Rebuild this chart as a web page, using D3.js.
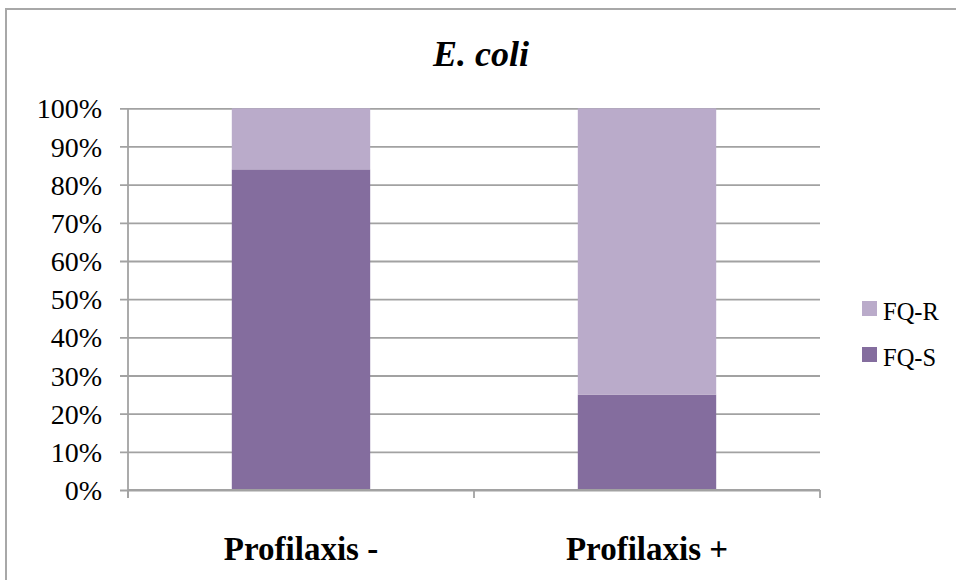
<!DOCTYPE html>
<html>
<head>
<meta charset="utf-8">
<script src="https://cdn.jsdelivr.net/npm/d3@7"></script>
<style>
  html, body { margin: 0; padding: 0; background: #fff; }
  svg { display: block; }
</style>
</head>
<body>
<svg id="chart" width="956" height="580"></svg>
<script>
// Chart data
const categories = ["Profilaxis -", "Profilaxis +"];
const seriesNames = ["FQ-S", "FQ-R"];
const fqS = [0.84, 0.25];
const fqR = [0.16, 0.75];
const yTicks = [0, 0.1, 0.2, 0.3, 0.4, 0.5, 0.6, 0.7, 0.8, 0.9, 1.0];
const titleText = "E. coli";

const colors = { "FQ-S": "#846d9e", "FQ-R": "#baabca" };
const gridColor = "#a2a2a2";
const serif = "'Liberation Serif', 'Times New Roman', serif";

const svg = d3.select("#chart");

// Outer chart frame (runs off the right and bottom edges)
svg.append("rect")
  .attr("x", 6).attr("y", 9)
  .attr("width", 1000).attr("height", 620)
  .attr("fill", "none")
  .attr("stroke", "#a8a8a8")
  .attr("stroke-width", 2);

const plot = { left: 128, right: 820, top: 108.3, bottom: 490 };

const x = d3.scaleBand()
  .domain(categories)
  .range([plot.left, plot.right])
  .padding(0);

const y = d3.scaleLinear()
  .domain([0, 1])
  .range([plot.bottom, plot.top]);

// Horizontal gridlines with tick marks and percentage labels
const yAxis = d3.axisLeft(y)
  .tickValues(yTicks)
  .tickFormat(d3.format(".0%"))
  .tickSize(-(plot.right - plot.left))
  .tickSizeOuter(0)
  .tickPadding(26);

const gy = svg.append("g")
  .attr("transform", `translate(${plot.left},0)`)
  .call(yAxis);
gy.select(".domain").remove();
gy.selectAll(".tick line")
  .attr("x1", -8)
  .attr("stroke", gridColor)
  .attr("stroke-width", 1.8);
gy.selectAll(".tick text")
  .attr("fill", "#000")
  .style("font-family", serif)
  .style("font-size", "28px")
  .attr("dy", "0.34em");

// Stacked bars
const stackData = categories.map((c, i) => ({ category: c, "FQ-S": fqS[i], "FQ-R": fqR[i] }));
const stacked = d3.stack().keys(seriesNames)(stackData);
const barWidth = x.bandwidth() * 0.4;

svg.append("g")
  .selectAll("g")
  .data(stacked)
  .join("g")
  .attr("fill", d => colors[d.key])
  .selectAll("rect")
  .data(d => d)
  .join("rect")
  .attr("x", d => x(d.data.category) + (x.bandwidth() - barWidth) / 2)
  .attr("width", barWidth)
  .attr("y", d => y(d[1]))
  .attr("height", d => y(d[0]) - y(d[1]));

// Vertical value axis line
svg.append("line")
  .attr("x1", plot.left).attr("x2", plot.left)
  .attr("y1", plot.top).attr("y2", plot.bottom + 8)
  .attr("stroke", gridColor)
  .attr("stroke-width", 1.8);

// Category axis with boundary tick marks
const boundaries = [plot.left, ...categories.map(c => x(c) + x.bandwidth())];
const gx = svg.append("g");
gx.append("line")
  .attr("x1", plot.left).attr("x2", plot.right)
  .attr("y1", plot.bottom).attr("y2", plot.bottom)
  .attr("stroke", gridColor)
  .attr("stroke-width", 1.8);
gx.selectAll("line.bt")
  .data(boundaries)
  .join("line")
  .attr("class", "bt")
  .attr("x1", d => d).attr("x2", d => d)
  .attr("y1", plot.bottom).attr("y2", plot.bottom + 8)
  .attr("stroke", gridColor)
  .attr("stroke-width", 1.8);
gx.selectAll("text")
  .data(categories)
  .join("text")
  .attr("x", d => x(d) + x.bandwidth() / 2)
  .attr("y", 560)
  .attr("text-anchor", "middle")
  .style("font-family", serif)
  .style("font-weight", "bold")
  .style("font-size", "33px")
  .text(d => d);

// Title
svg.append("text")
  .attr("x", 481)
  .attr("y", 66)
  .attr("text-anchor", "middle")
  .style("font-family", serif)
  .style("font-weight", "bold")
  .style("font-style", "italic")
  .style("font-size", "36px")
  .text(titleText);

// Legend (FQ-R listed above FQ-S)
const legendItems = seriesNames.slice().reverse();
const legend = svg.append("g");
const li = legend.selectAll("g")
  .data(legendItems)
  .join("g")
  .attr("transform", (d, i) => `translate(862, ${301 + i * 46})`);
li.append("rect")
  .attr("width", 15).attr("height", 15)
  .attr("fill", d => colors[d]);
li.append("text")
  .attr("x", 21)
  .attr("y", 19)
  .style("font-family", serif)
  .style("font-size", "24.5px")
  .text(d => d);
</script>
</body>
</html>
